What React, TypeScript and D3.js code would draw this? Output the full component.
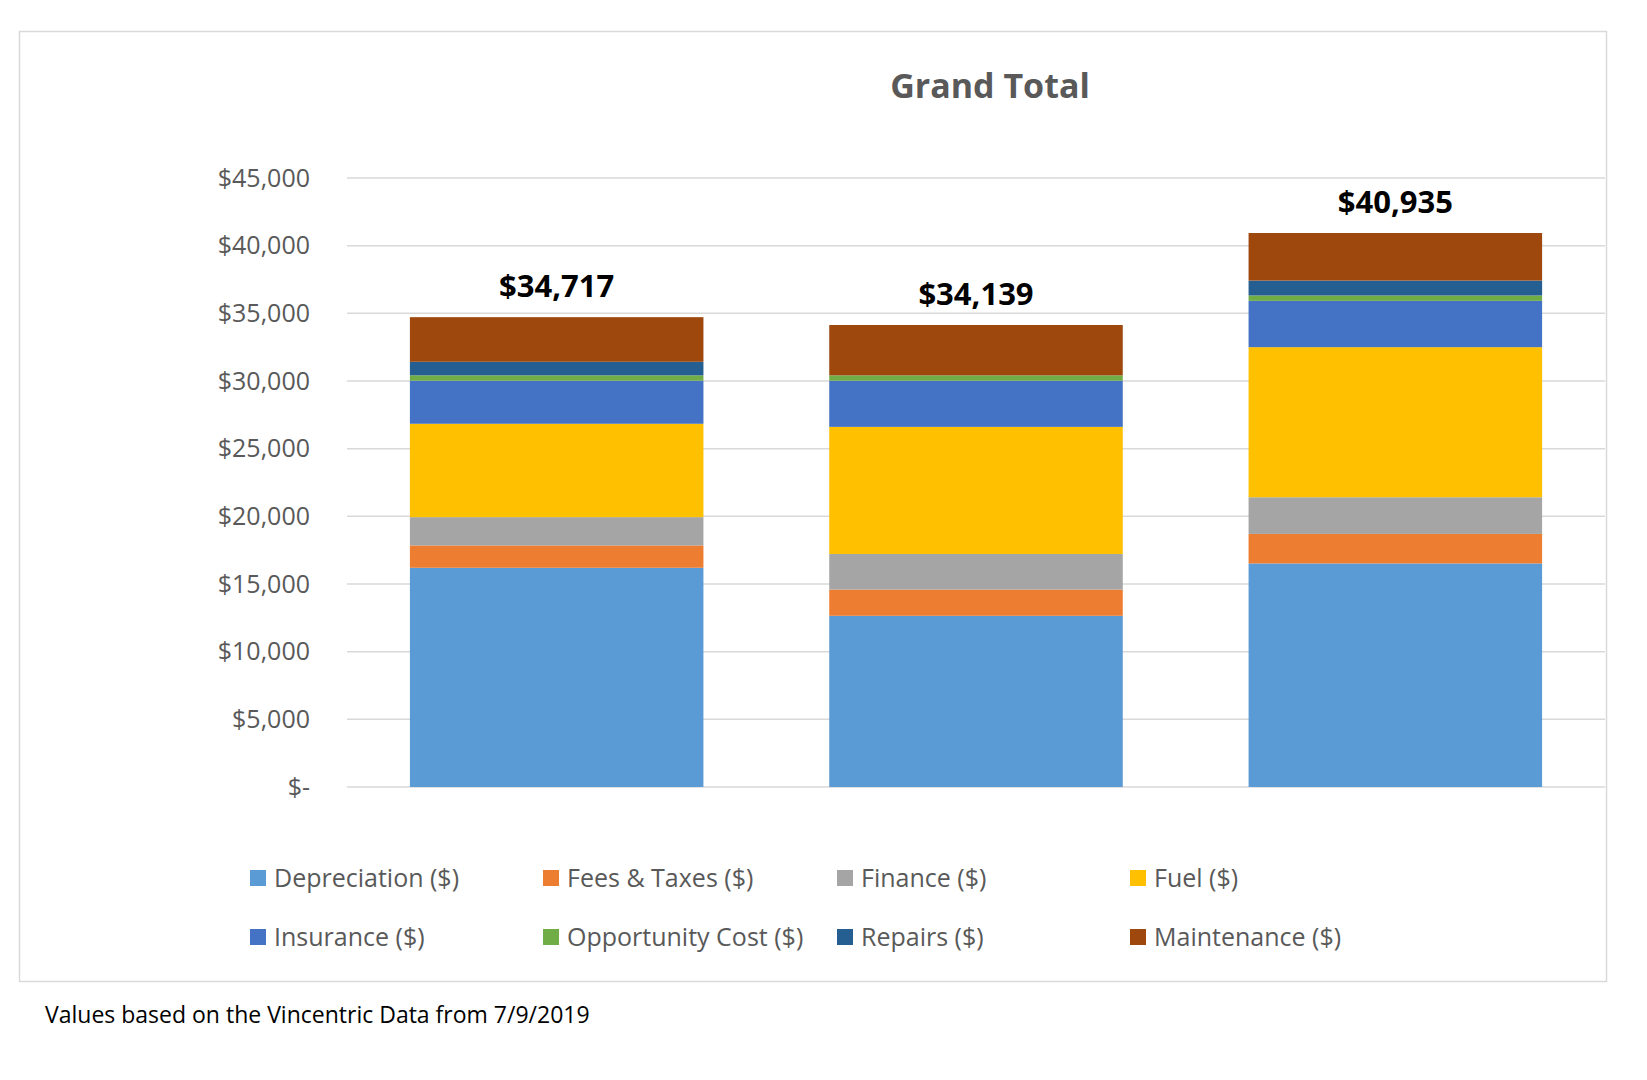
import * as d3 from 'd3';

const categories = ['A', 'B', 'C'];
const seriesNames = [
  'Depreciation ($)', 'Fees & Taxes ($)', 'Finance ($)', 'Fuel ($)',
  'Insurance ($)', 'Opportunity Cost ($)', 'Repairs ($)', 'Maintenance ($)',
];
const colors = ['#5b9bd5', '#ed7d31', '#a5a5a5', '#ffc000', '#4472c4', '#70ad47', '#255e91', '#9e480e'];
const depreciation = [16200, 12650, 16520];
const feesTaxes = [1650, 1940, 2180];
const finance = [2090, 2630, 2710];
const fuel = [6900, 9390, 11090];
const insurance = [3180, 3410, 3420];
const opportunity = [400, 400, 400];
const repairs = [1000, 0, 1100];
const totals = [34717, 34139, 40935];
const yTicks = [0, 5000, 10000, 15000, 20000, 25000, 30000, 35000, 40000, 45000];

const W = 1647, H = 1080;
const font = "'Open Sans', 'Liberation Sans', sans-serif";

export default function App() {
  const base = [depreciation, feesTaxes, finance, fuel, insurance, opportunity, repairs];
  const maintenance = totals.map((t, i) => t - base.reduce((s, a) => s + a[i], 0));
  const all = [...base, maintenance];
  const rows = categories.map((c, i) => {
    const r: any = { cat: c };
    seriesNames.forEach((n, k) => (r[n] = all[k][i]));
    return r;
  });
  const stacked = d3.stack<any>().keys(seriesNames)(rows);

  const x = d3.scaleBand().domain(categories).range([347, 1605]).paddingInner(0.3).paddingOuter(0.15);
  const y = d3.scaleLinear().domain([0, 45000]).range([787, 178]);
  const fmt = (v: number) => (v === 0 ? '$-' : '$' + d3.format(',')(v));

  const legendX = [250, 543, 837, 1130];
  const legendY = [878, 937];

  return (
    <svg width={W} height={H} style={{ position: 'absolute', left: 0, top: 0, background: '#fff' }} fontFamily={font}>
      <rect x={19.5} y={31.5} width={1587} height={950} fill="#fff" stroke="#d9d9d9" strokeWidth={1.5} />
      <text x={990} y={98} textAnchor="middle" fontSize={34} fontWeight="bold" fill="#595959">Grand Total</text>
      {yTicks.map((t) => (
        <g key={t}>
          <line x1={347} x2={1605} y1={y(t)} y2={y(t)} stroke="#d9d9d9" strokeWidth={1.5} />
          <text x={310} y={y(t)} dy="0.35em" textAnchor="end" fontSize={25} fill="#595959">{fmt(t)}</text>
        </g>
      ))}
      {stacked.map((s, k) => (
        <g key={s.key} fill={colors[k]}>
          {s.map((d, i) => (
            <rect key={i} x={x(categories[i])} width={x.bandwidth()} y={y(d[1])} height={Math.max(0, y(d[0]) - y(d[1]))} />
          ))}
        </g>
      ))}
      {totals.map((t, i) => (
        <text key={i} x={x(categories[i])! + x.bandwidth() / 2} y={y(t) - 20} textAnchor="middle" fontSize={31} fontWeight="bold" fill="#000">
          {fmt(t)}
        </text>
      ))}
      {seriesNames.map((n, k) => (
        <g key={n} transform={`translate(${legendX[k % 4]},${legendY[Math.floor(k / 4)]})`}>
          <rect x={0} y={-8} width={16} height={16} fill={colors[k]} />
          <text x={24} y={0} dy="0.35em" fontSize={25} fill="#595959">{n}</text>
        </g>
      ))}
      <text x={45} y={1023} fontSize={23} fill="#000">Values based on the Vincentric Data from 7/9/2019</text>
    </svg>
  );
}
